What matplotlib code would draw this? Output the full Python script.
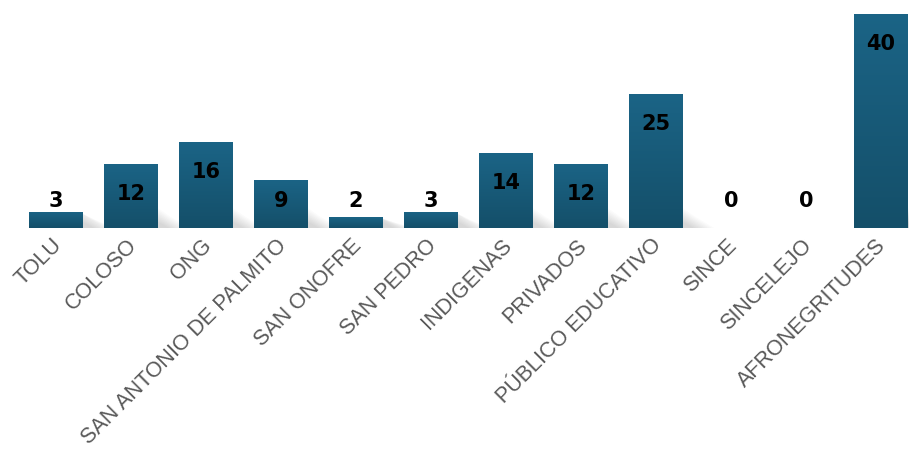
import numpy as np
import matplotlib.pyplot as plt
import matplotlib.transforms as mtransforms
from matplotlib.colors import LinearSegmentedColormap
from matplotlib.patches import Polygon

# datos
categorias = ['TOLU', 'COLOSO', 'ONG', 'SAN ANTONIO DE PALMITO', 'SAN ONOFRE',
              'SAN PEDRO', 'INDIGENAS', 'PRIVADOS', 'PÚBLICO EDUCATIVO',
              'SINCE', 'SINCELEJO', 'AFRONEGRITUDES']
valores = [3, 12, 16, 9, 2, 3, 14, 12, 25, 0, 0, 40]

color_arriba = '#1b6486'
color_abajo = '#144f69'
cmap = LinearSegmentedColormap.from_list('barra', [color_abajo, color_arriba])

fig = plt.figure(figsize=(9.1, 4.51), dpi=100)
ax = fig.add_axes([18.5 / 910, 223 / 451, 890 / 910, 216.7 / 451])

x = np.arange(len(categorias))
ancho = 0.72
barras = ax.bar(x, valores, width=ancho, color='none', edgecolor='none', zorder=3)

# sombra difusa que cae a la derecha de cada barra
for b in barras:
    h = b.get_height()
    if h <= 0:
        continue
    xr = b.get_x() + b.get_width()
    for k in range(10):
        f = (k + 1) / 10
        largo = 0.12 + 0.30 * f
        alto = min(h, 1.2 + 3.0 * f)
        tri = Polygon([(xr - 0.05, 0), (xr + largo, 0), (xr + largo * 0.4, alto * 0.5),
                       (xr - 0.05, alto)], closed=True, color='black',
                      alpha=0.014, lw=0, zorder=1)
        ax.add_patch(tri)
    for k in range(3):
        ax.add_patch(plt.Rectangle((b.get_x() - 0.02, -0.2 - 0.2 * k),
                                   b.get_width() + 0.1, 0.2 + 0.2 * k,
                                   color='black', alpha=0.02, lw=0, zorder=1))

# degradado dentro de cada barra
grad = np.linspace(0, 1, 256).reshape(-1, 1)
for b in barras:
    h = b.get_height()
    if h <= 0:
        continue
    im = ax.imshow(grad, cmap=cmap, origin='lower', aspect='auto',
                   extent=[b.get_x(), b.get_x() + b.get_width(), 0, h], zorder=4)
    im.set_clip_path(b)

# etiquetas de valor
for xi, v in zip(x, valores):
    y = max(v - 5.6, 5.0)
    ax.text(xi, y, str(v), ha='center', va='center', fontsize=15,
            fontweight='bold', color='black', family='DejaVu Sans', zorder=5)

ax.set_xlim(-0.5, 11.37)
ax.set_ylim(0, 40.5)
ax.set_xticks(x)
ax.set_xticklabels(categorias, rotation=45, ha='right', rotation_mode='anchor',
                   fontsize=15.5, color='#595959', family='Liberation Sans')
ax.tick_params(axis='x', length=0, pad=5)
desplaza = mtransforms.ScaledTranslation(-5 / 100, 0, fig.dpi_scale_trans)
for lbl in ax.get_xticklabels():
    lbl.set_transform(lbl.get_transform() + desplaza)
ax.set_yticks([])
for s in ax.spines.values():
    s.set_visible(False)
ax.patch.set_alpha(0)

fig.savefig('out.png', dpi=100)
